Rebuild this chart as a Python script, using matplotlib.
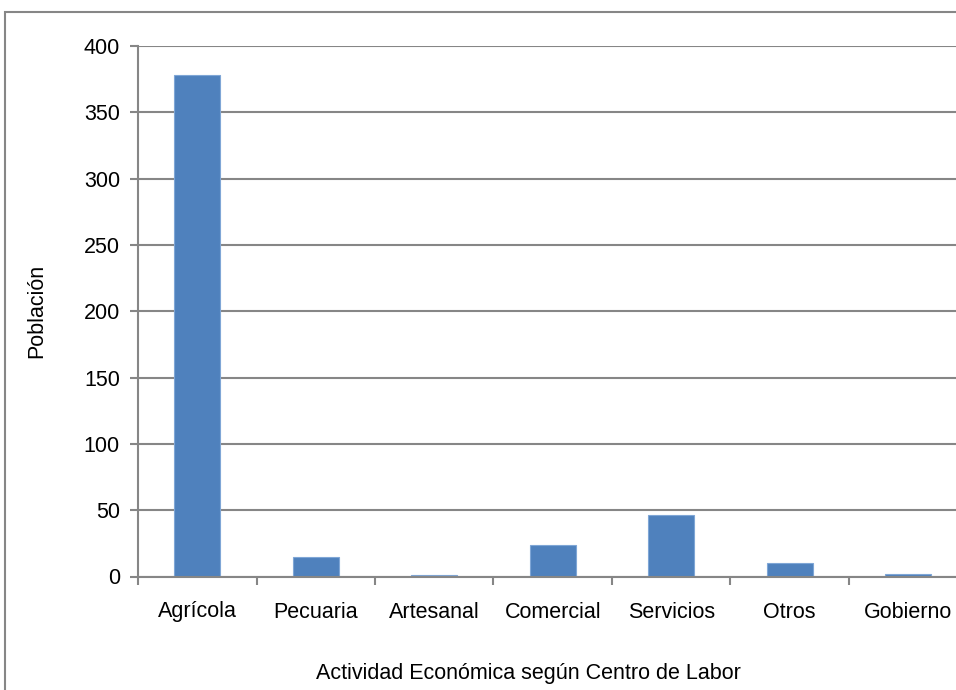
import matplotlib
matplotlib.use("Agg")
import matplotlib.pyplot as plt
from matplotlib.patches import Rectangle
import numpy as np

categories = ["Agrícola", "Pecuaria", "Artesanal", "Comercial", "Servicios", "Otros", "Gobierno"]
values = [378, 15, 1, 24, 46, 10, 2]
y_ticks = [0, 50, 100, 150, 200, 250, 300, 350, 400]

plt.rcParams["font.family"] = ["Liberation Sans", "DejaVu Sans"]
FS = 15.5

grey = "#868686"
fig = plt.figure(figsize=(9.56, 6.9), dpi=100)
fig.patch.set_facecolor("white")
ax = fig.add_axes([138/956, 113.5/690, 829.5/956, 530.5/690])

x = np.arange(len(categories))
ax.bar(x, values, width=0.39, color="#4F81BD", edgecolor="#7FA6D6", linewidth=0.8, zorder=3)

ax.set_xlim(-0.5, len(categories) - 0.5)
ax.set_ylim(0, 400)
ax.set_yticks(y_ticks)
ax.set_yticklabels([str(v) for v in y_ticks], fontsize=FS)
ax.set_xticks(x)
ax.set_xticklabels(categories, fontsize=FS)
ax.set_xticks(np.arange(len(categories) + 1) - 0.5, minor=True)
ax.tick_params(axis="x", which="major", length=0, pad=18)
ax.tick_params(axis="x", which="minor", length=6, color=grey, width=1.5, direction="out")
ax.tick_params(axis="y", length=6, color=grey, width=1.5, direction="out", pad=7)

ax.grid(axis="y", color=grey, linewidth=1.5, zorder=0)
ax.set_axisbelow(True)
for s in ["top", "right"]:
    ax.spines[s].set_visible(False)
for s in ["left", "bottom"]:
    ax.spines[s].set_color(grey)
    ax.spines[s].set_linewidth(1.5)
    ax.spines[s].set_zorder(4)

fig.text(37/956, 1 - 311/690, "Población", rotation=90, ha="center", va="center", fontsize=FS)
fig.text(528/956, 1 - 674/690, "Actividad Económica según Centro de Labor", ha="center", va="center", fontsize=FS)

fig.patches.append(Rectangle((5/956, -0.1), 1.2, 1 - 12/690 + 0.1, transform=fig.transFigure,
                             fill=False, edgecolor=grey, linewidth=1.5, figure=fig))

fig.savefig("out.png", dpi=100)
